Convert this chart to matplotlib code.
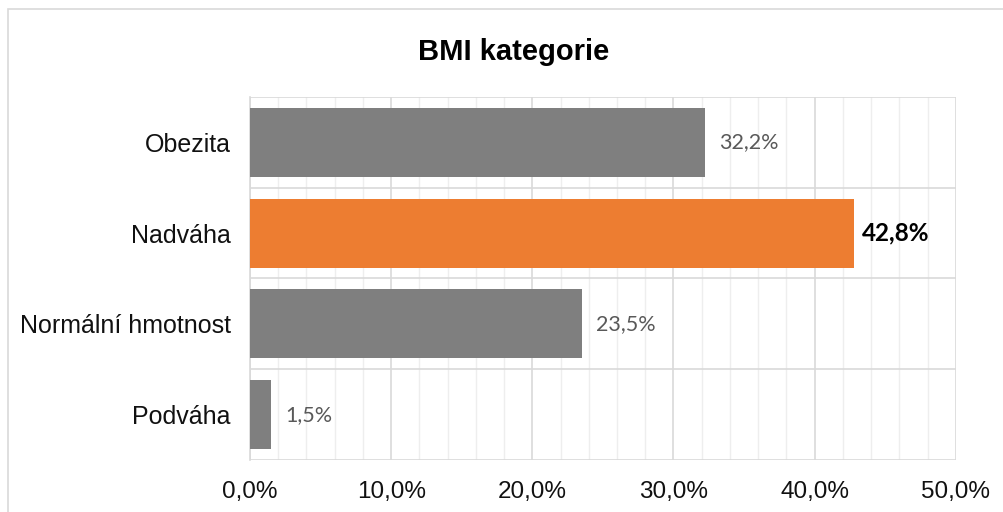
import matplotlib.pyplot as plt
from matplotlib.ticker import MultipleLocator, FuncFormatter
from matplotlib.patches import Rectangle

categories = ['Podváha', 'Normální hmotnost', 'Nadváha', 'Obezita']
values = [1.5, 23.5, 42.8, 32.2]
colors = ['#7f7f7f', '#7f7f7f', '#ed7d31', '#7f7f7f']
highlight = 'Nadváha'

fig = plt.figure(figsize=(10.04, 5.12), dpi=100)
ax = fig.add_axes([0.249, 0.1016, 0.703, 0.709])

# outer chart border
fig.patches.append(Rectangle((8 / 1004, -0.1), 1.2, 1.1 - 9 / 512,
                             transform=fig.transFigure, fill=False,
                             edgecolor='#d9d9d9', linewidth=1.2))

y = range(len(categories))
ax.barh(y, values, height=0.76, color=colors, zorder=3)

ax.set_xlim(0, 50)
ax.set_ylim(-0.5, len(categories) - 0.5)
ax.xaxis.set_major_locator(MultipleLocator(10))
ax.xaxis.set_minor_locator(MultipleLocator(2))
ax.xaxis.set_major_formatter(FuncFormatter(lambda v, p: f'{v:.1f}%'.replace('.', ',')))
ax.set_yticks(list(y))
ax.set_yticklabels(categories)
ax.set_yticks([i - 0.5 for i in range(len(categories) + 1)], minor=True)

ax.grid(which='major', axis='x', color='#d9d9d9', linewidth=1.2, zorder=0)
ax.grid(which='minor', axis='x', color='#eeeeee', linewidth=1.0, zorder=0)
ax.grid(which='minor', axis='y', color='#d9d9d9', linewidth=1.2, zorder=0)
ax.grid(which='major', axis='y', visible=False)

for s in ['top', 'right', 'bottom']:
    ax.spines[s].set_visible(False)
ax.spines['left'].set_color('#d9d9d9')
ax.spines['left'].set_linewidth(1.2)

ax.tick_params(which='both', length=0)
ax.tick_params(axis='x', pad=15, labelsize=17.5)
ax.tick_params(axis='y', pad=14, labelsize=18)
for lab in ax.get_xticklabels() + ax.get_yticklabels():
    lab.set_fontfamily('Liberation Sans')
    lab.set_color('#111111')

for i, (cat, v) in enumerate(zip(categories, values)):
    txt = f'{v:.1f}%'.replace('.', ',')
    if cat == highlight:
        ax.text(v + 0.55, i, txt, va='center', ha='left', fontsize=17.5,
                fontweight='bold', color='black', family='Lato', zorder=4)
    else:
        ax.text(v + 1.0, i, txt, va='center', ha='left', fontsize=15.5,
                color='#595959', family='Lato', zorder=4)

fig.text(0.512, 0.898, 'BMI kategorie', ha='center', va='center',
         fontsize=21, fontweight='bold', family='Liberation Sans')

fig.savefig('out.png', dpi=100)
